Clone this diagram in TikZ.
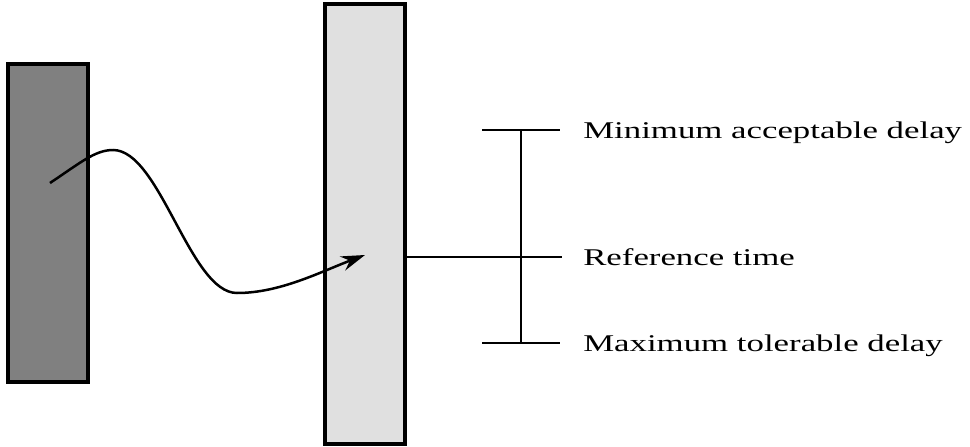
\documentclass[tikz,border=0pt]{standalone}
\usepackage{fontspec}
\newfontfamily\labelfont[FakeStretch=1.45]{Liberation Serif}
\usetikzlibrary{arrows.meta}

\tikzset{
  bar/.style={draw,line width=3.5pt,inner sep=0pt,minimum width=80pt},
  labeltext/.style={font=\labelfont\fontsize{24}{28}\selectfont,anchor=base west,inner sep=0pt}
}

\begin{document}
\begin{tikzpicture}[x=1pt,y=-1pt,line width=2.5pt]
        \useasboundingbox (0,0) rectangle (970,447);
        %送信側と受信側
        \node[bar,fill=black!50,minimum height=318pt] (sender) at (48,223) {};
        \node[bar,fill=black!12,minimum height=440pt] (receiver) at (365,224) {};
        %遅延の曲線
        \coordinate (src) at (50,183);
        \coordinate (peak) at (113,150);
        \coordinate (trough) at (237,293);
        \coordinate (tip) at (365,255);
        \draw[-{Stealth[length=24pt,width=15pt,inset=8pt]}] (src) .. controls (80,163) and (95,150) .. (peak)
            .. controls (160,150) and (190,293) .. (trough)
            .. controls (280,293) and (320,272) .. (tip);
        %基準時刻の線
        \coordinate (ref) at (562,257);
        \draw (receiver.east |- ref) -- (ref);
        %許容範囲
        \coordinate (minL) at (482,130); \coordinate (minR) at (560,130);
        \coordinate (maxL) at (482,343); \coordinate (maxR) at (560,343);
        \coordinate (minC) at (521,130); \coordinate (maxC) at (521,343);
        \draw (minL) -- (minR) (maxL) -- (maxR);
        \draw (minC) -- (maxC);
        %ラベル
        \node[labeltext] (minlab) at (582,138) {Minimum acceptable delay};
        \node[labeltext] (reflab) at (582,265) {Reference time};
        \node[labeltext] (maxlab) at (582,351) {Maximum tolerable delay};
\end{tikzpicture}
\end{document}
